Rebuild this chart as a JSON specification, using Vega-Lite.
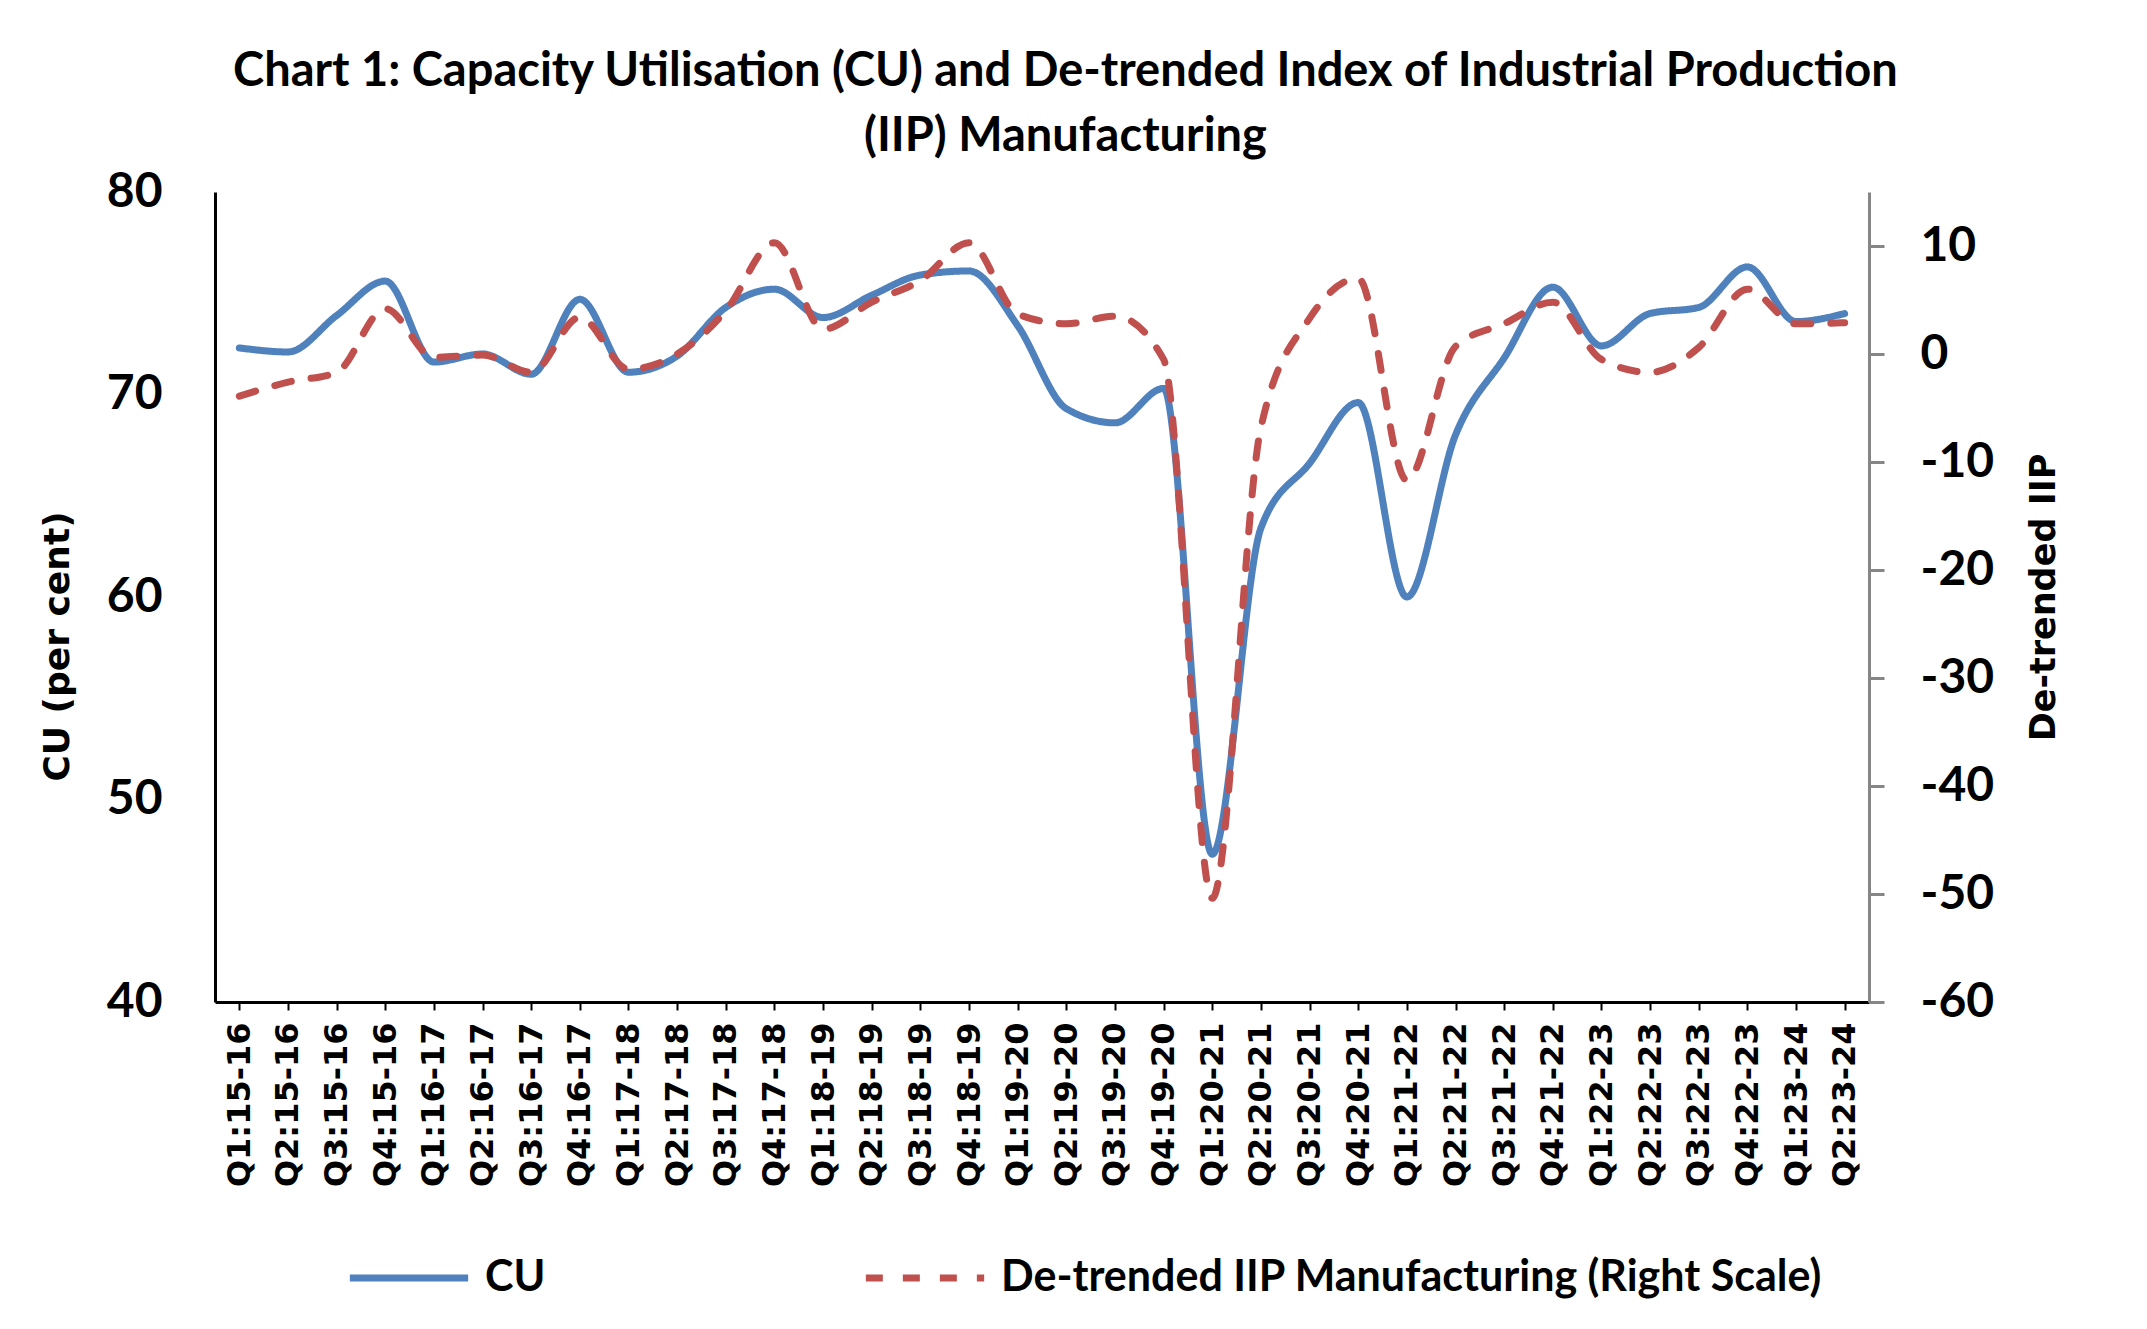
{
  "$schema": "https://vega.github.io/schema/vega-lite/v6.json",
  "width": 1654,
  "height": 810,
  "autosize": {"type": "none"},
  "padding": {"left": 215, "top": 192, "right": 278, "bottom": 327},
  "background": "white",
  "title": {
    "text": ["Chart 1: Capacity Utilisation (CU) and De-trended Index of Industrial Production", "(IIP) Manufacturing"],
    "font": "Lato",
    "fontSize": 47,
    "fontWeight": "bold",
    "color": "black",
    "anchor": "middle",
    "frame": "bounds",
    "lineHeight": 65,
    "offset": 7,
    "dx": 15
  },
  "data": {
    "values": [
      {"q": "Q1:15-16", "CU": 72.3, "IIP": -3.9},
      {"q": "Q2:15-16", "CU": 72.1, "IIP": -2.6},
      {"q": "Q3:15-16", "CU": 73.9, "IIP": -1.7},
      {"q": "Q4:15-16", "CU": 75.6, "IIP": 4.2},
      {"q": "Q1:16-17", "CU": 71.6, "IIP": -0.3},
      {"q": "Q2:16-17", "CU": 72.0, "IIP": -0.1},
      {"q": "Q3:16-17", "CU": 71.0, "IIP": -1.7},
      {"q": "Q4:16-17", "CU": 74.7, "IIP": 3.4},
      {"q": "Q1:17-18", "CU": 71.1, "IIP": -1.4},
      {"q": "Q2:17-18", "CU": 71.9, "IIP": 0.0},
      {"q": "Q3:17-18", "CU": 74.3, "IIP": 4.0},
      {"q": "Q4:17-18", "CU": 75.2, "IIP": 10.3},
      {"q": "Q1:18-19", "CU": 73.8, "IIP": 2.3},
      {"q": "Q2:18-19", "CU": 74.9, "IIP": 4.8},
      {"q": "Q3:18-19", "CU": 75.9, "IIP": 6.8},
      {"q": "Q4:18-19", "CU": 76.1, "IIP": 10.3},
      {"q": "Q1:19-20", "CU": 73.4, "IIP": 3.7},
      {"q": "Q2:19-20", "CU": 69.3, "IIP": 2.8},
      {"q": "Q3:19-20", "CU": 68.6, "IIP": 3.5},
      {"q": "Q4:19-20", "CU": 70.3, "IIP": -0.5},
      {"q": "Q1:20-21", "CU": 47.3, "IIP": -50.4},
      {"q": "Q2:20-21", "CU": 63.4, "IIP": -6.8},
      {"q": "Q3:20-21", "CU": 66.6, "IIP": 3.3},
      {"q": "Q4:20-21", "CU": 69.6, "IIP": 7.0},
      {"q": "Q1:21-22", "CU": 60.0, "IIP": -11.7},
      {"q": "Q2:21-22", "CU": 68.0, "IIP": 0.7},
      {"q": "Q3:21-22", "CU": 71.8, "IIP": 2.8},
      {"q": "Q4:21-22", "CU": 75.3, "IIP": 4.8},
      {"q": "Q1:22-23", "CU": 72.4, "IIP": -0.5},
      {"q": "Q2:22-23", "CU": 74.0, "IIP": -1.7},
      {"q": "Q3:22-23", "CU": 74.3, "IIP": 0.6},
      {"q": "Q4:22-23", "CU": 76.3, "IIP": 6.0},
      {"q": "Q1:23-24", "CU": 73.6, "IIP": 2.8},
      {"q": "Q2:23-24", "CU": 74.0, "IIP": 2.9}
    ]
  },
  "encoding": {
    "x": {
      "field": "q",
      "type": "ordinal",
      "sort": null,
      "scale": {"type": "point", "padding": 0.5},
      "axis": {
        "title": null,
        "labelAngle": -90,
        "labelFont": "DejaVu Sans",
        "labelFontWeight": "bold",
        "labelFontSize": 32,
        "labelColor": "black",
        "labelPadding": 12,
        "tickSize": 8,
        "tickWidth": 2,
        "tickColor": "black",
        "domainColor": "black",
        "domainWidth": 3,
        "grid": false
      }
    }
  },
  "layer": [
    {
      "mark": {"type": "line", "interpolate": "monotone", "strokeWidth": 7, "strokeCap": "round"},
      "encoding": {
        "y": {
          "field": "CU",
          "type": "quantitative",
          "scale": {"domain": [40, 80], "nice": false, "zero": false},
          "axis": {
            "orient": "left",
            "values": [40, 50, 60, 70, 80],
            "title": "CU (per cent)",
            "titleFont": "DejaVu Sans",
            "titleFontSize": 36,
            "titleFontWeight": "bold",
            "titleColor": "black",
            "titlePadding": 30,
            "titleY": 454,
            "labelFont": "Lato",
            "labelFontSize": 48,
            "labelFontWeight": "bold",
            "labelColor": "black",
            "labelPadding": 53,
            "ticks": false,
            "tickSize": 0,
            "domainColor": "black",
            "domainWidth": 3,
            "grid": false
          }
        },
        "color": {
          "datum": "CU",
          "scale": {"domain": ["CU", "De-trended  IIP Manufacturing (Right Scale)"], "range": ["#4F81BD", "#C0504D"]},
          "legend": {"title": null}
        },
        "strokeDash": {
          "datum": "CU",
          "scale": {"domain": ["CU", "De-trended  IIP Manufacturing (Right Scale)"], "range": [[1, 0], [17, 20]]},
          "legend": {"title": null}
        }
      }
    },
    {
      "mark": {"type": "line", "interpolate": "monotone", "strokeWidth": 7, "strokeCap": "round"},
      "encoding": {
        "y": {
          "field": "IIP",
          "type": "quantitative",
          "scale": {"domain": [-60, 15], "nice": false, "zero": false},
          "axis": {
            "orient": "right",
            "values": [-60, -50, -40, -30, -20, -10, 0, 10],
            "labelExpr": "replace(datum.label, '\u2212', '-')",
            "title": "De-trended IIP",
            "titleAngle": 270,
            "titleFont": "DejaVu Sans",
            "titleFontSize": 35,
            "titleFontWeight": "bold",
            "titleColor": "black",
            "titlePadding": 68,
            "labelFont": "Lato",
            "labelFontSize": 48,
            "labelFontWeight": "bold",
            "labelColor": "black",
            "labelPadding": 36,
            "tickSize": 15,
            "tickWidth": 3,
            "tickColor": "#868686",
            "domainColor": "#868686",
            "domainWidth": 3,
            "grid": false
          }
        },
        "color": {"datum": "De-trended  IIP Manufacturing (Right Scale)"},
        "strokeDash": {"datum": "De-trended  IIP Manufacturing (Right Scale)"}
      }
    }
  ],
  "resolve": {"scale": {"y": "independent"}, "axis": {"y": "independent"}},
  "config": {
    "view": {"stroke": null},
    "legend": {
      "orient": "none",
      "legendX": 131,
      "legendY": 1023,
      "direction": "horizontal",
      "labelFont": "Lato",
      "labelFontSize": 43,
      "labelFontWeight": "bold",
      "labelColor": "black",
      "labelLimit": 1200,
      "labelOffset": 13,
      "symbolType": "stroke",
      "symbolSize": 14000,
      "symbolStrokeWidth": 7,
      "columnPadding": 305
    }
  }
}
